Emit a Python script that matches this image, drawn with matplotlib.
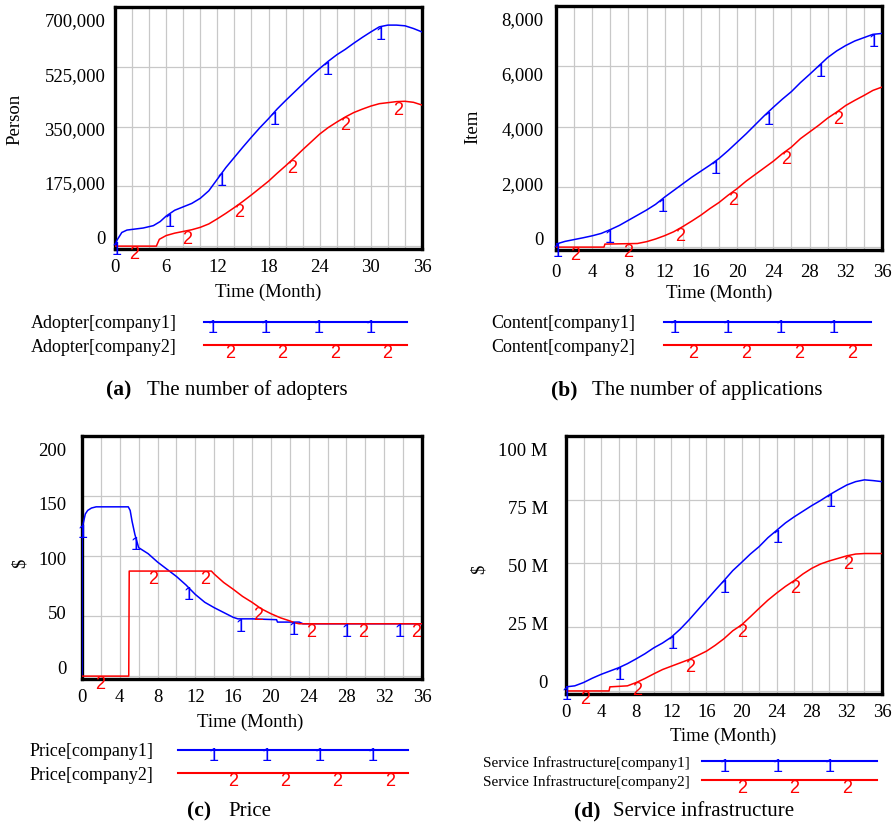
import numpy as np
import matplotlib.pyplot as plt
from matplotlib.lines import Line2D
from matplotlib.transforms import ScaledTranslation

W, H = 896, 826

# ---------------- data ----------------
# (a) adopters, thousands of persons
t_adopt1 = [0, 0.2, 0.8, 1.4, 3.3, 4.5, 5.3, 6, 7, 8, 9, 10, 11, 12, 13, 14, 15, 16, 17, 18,
            19, 20, 21, 22, 23, 24, 25, 26, 27, 28, 29, 30, 31, 32, 33, 34, 35, 36]
adopt1 = [0, 16, 40, 47, 53, 60, 72, 88, 105, 115, 125, 140, 162, 196, 230, 260, 290, 319, 347, 373,
          401, 426, 450, 474, 498, 520, 541, 560, 576, 594, 611, 627, 642, 647, 647, 645, 637, 627]
t_adopt2 = [0, 4.85, 5.2, 6, 7, 8, 9, 10, 11, 12, 13, 14, 15, 16, 17, 18, 19, 20, 21, 22,
            23, 24, 25, 26, 27, 28, 29, 30, 31, 32, 33, 34, 35, 36]
adopt2 = [0, 0, 20, 31, 38, 43, 48, 55, 65, 80, 96, 113, 131, 150, 170, 190, 213, 235, 258, 282,
          305, 328, 347, 363, 378, 391, 401, 410, 417, 420, 423, 424, 421, 413]

# (b) content, items
t_cont1 = list(range(37))
cont1 = [100, 190, 250, 310, 375, 455, 580, 720, 890, 1060, 1230, 1420, 1660, 1880, 2100, 2320,
         2520, 2720, 2940, 3200, 3480, 3760, 4060, 4360, 4640, 4910, 5160, 5460, 5730, 6010,
         6290, 6510, 6690, 6840, 6950, 7060, 7090]
t_cont2 = [0, 5.3, 5.4, 9, 10, 11, 12, 13, 14, 15, 16, 17, 18, 19, 20, 21, 22, 23, 24, 25,
           26, 27, 28, 29, 30, 31, 32, 33, 34, 35, 36]
cont2 = [0, 0, 100, 120, 180, 270, 380, 510, 680, 865, 1060, 1280, 1480, 1720, 1940, 2190, 2410,
         2630, 2850, 3100, 3320, 3600, 3820, 4040, 4280, 4480, 4700, 4870, 5030, 5200, 5310]

# (c) price, $
t_price1 = [0, 0.01, 0.35, 0.6, 1, 1.5, 4.9, 5.1, 5.3, 5.6, 6, 7, 8, 9, 10, 11, 12, 13, 14, 15,
            16, 16.5, 18, 20.6, 20.7, 23, 23.4, 36]
price1 = [0, 123, 135, 138, 140, 141, 141, 138, 129, 118, 107, 102, 95, 89, 83, 76, 68, 61.5, 57, 53,
          49, 47.7, 47.7, 47, 45, 45, 43.6, 43.6]
t_price2 = [0, 4.95, 5.0, 13.7, 14, 15, 16, 17, 18, 19, 20, 21, 22, 22.5, 23, 36]
price2 = [0, 0, 87.5, 87.5, 85, 78, 72.4, 66.4, 61.5, 56, 52, 48.6, 46, 44.4, 43.6, 43.6]

# (d) service infrastructure, million $
t_serv1 = list(range(37))
serv1 = [1.6, 2.0, 3.3, 5.0, 6.5, 7.8, 9.1, 10.7, 12.6, 14.6, 16.9, 18.8, 21.1, 24.2, 27.8, 31.7,
         35.6, 39.5, 43.3, 47.2, 50.4, 53.7, 56.6, 60.1, 63.0, 65.9, 68.3, 70.5, 72.7, 74.7, 76.9,
         78.9, 80.8, 82.1, 82.8, 82.5, 82.1]
t_serv2 = [0, 4.9, 5.0, 7, 8, 9, 10, 11, 12, 13, 14, 15, 16, 17, 18, 19, 20, 21, 22, 23, 24,
           25, 26, 27, 28, 29, 30, 31, 32, 33, 34, 35, 36]
serv2 = [0, 0, 1.6, 2.0, 3.3, 4.9, 6.7, 8.4, 9.7, 11.0, 12.3, 13.9, 15.6, 17.9, 20.5, 23.6, 25.9,
         29.1, 32.4, 35.6, 38.4, 41.0, 43.3, 45.9, 48.1, 49.8, 51.0, 52.0, 53.0, 53.7, 53.9, 53.9, 53.9]

yticks_a = [0, 175, 350, 525, 700]
ylabels_a = ['0', '175,000', '350,000', '525,000', '700,000']
yticks_b = [0, 2000, 4000, 6000, 8000]
ylabels_b = ['0', '2,000', '4,000', '6,000', '8,000']
yticks_c = [0, 50, 100, 150, 200]
ylabels_c = ['0', '50', '100', '150', '200']
yticks_d = [0, 25, 50, 75, 100]
ylabels_d = ['0', '25 M', '50 M', '75 M', '100 M']

BLUE = '#0000ff'
RED = '#ff0000'
SERIF = 'Liberation Serif'
SANS = 'Liberation Sans'
MK = 13  # size of the 1/2 series markers

fig = plt.figure(figsize=(W / 100, H / 100), dpi=100)


def box(l, t, r, b):
    return [l / W, 1 - b / H, (r - l) / W, (b - t) / H]


def ftext(x, y, s, **kw):
    fig.text(x / W, 1 - y / H, s, **kw)


def panel(rect, series, yticks, ylabels, xstep, ypad, xpad, m1, m2):
    ax = fig.add_axes(box(*rect))
    ymax = yticks[-1]
    ax.set_xlim(0, 36)
    ax.set_ylim(-0.012 * ymax, ymax)
    ax.set_xticks(np.arange(0, 37, xstep))
    ax.set_xticks(np.arange(0, 37, 2), minor=True)
    ax.set_yticks(yticks)
    ax.set_yticklabels(ylabels)
    ax.grid(which='both', axis='x', color='#c8c8c8', lw=0.9)
    ax.grid(which='major', axis='y', color='#c8c8c8', lw=0.9)
    ax.set_axisbelow(True)
    ax.tick_params(which='both', length=0, labelsize=13.5)
    ax.tick_params(axis='y', pad=ypad)
    ax.tick_params(axis='x', pad=xpad)
    for lab in ax.get_xticklabels() + ax.get_yticklabels():
        lab.set_family(SERIF)
    # vensim squeezes the value labels towards the middle
    for lab, v in zip(ax.get_yticklabels(), yticks):
        dy = (9 - 22 * v / ymax) / 100
        lab.set_transform(lab.get_transform() + ScaledTranslation(0, dy, fig.dpi_scale_trans))
    for sp in ax.spines.values():
        sp.set_linewidth(2.4)
    (t1, v1), (t2, v2) = series
    ax.plot(t1, v1, color=BLUE, lw=1.1, zorder=3)
    ax.plot(t2, v2, color=RED, lw=1.1, zorder=3)
    for tm in np.arange(m1[0], 36, m1[1]):
        ax.text(tm, np.interp(tm, t1, v1), '1', color=BLUE, fontsize=MK, family=SANS,
                ha='center', va='top', zorder=4)
    for tm in np.arange(m2[0], 36, m2[1]):
        ax.text(tm, np.interp(tm, t2, v2), '2', color=RED, fontsize=MK, family=SANS,
                ha='center', va='top', zorder=4)
    return ax


def legend(xt, x0, x1, y1, y2, names, size, p1, p2):
    for y, name, col, mk, pos in [(y1, names[0], BLUE, '1', p1), (y2, names[1], RED, '2', p2)]:
        fig.add_artist(Line2D([x0 / W, x1 / W], [1 - y / H, 1 - y / H], color=col, lw=1.5,
                              transform=fig.transFigure))
        ftext(xt, y + 2, name, fontsize=size, family=SERIF, va='center', ha='left')
        for x in pos:
            ftext(x, y - 2 if mk == '1' else y, mk, color=col, fontsize=MK, family=SANS,
                  ha='center', va='top')


def caption(xb, xr, y, tag, text):
    ftext(xb, y, tag, fontsize=15.5, family=SERIF, weight='bold', va='center')
    ftext(xr, y, text, fontsize=15, family=SERIF, va='center')


panel((115, 7, 422, 249), [(t_adopt1, adopt1), (t_adopt2, adopt2)], yticks_a, ylabels_a,
      6, 7, 7, (0.15, 6.2), (2.2, 6.2))
panel((556, 6, 882, 250), [(t_cont1, cont1), (t_cont2, cont2)], yticks_b, ylabels_b,
      4, 9, 10, (0.15, 5.82), (2.1, 5.82))
panel((82, 436, 422, 679), [(t_price1, price1), (t_price2, price2)], yticks_c, ylabels_c,
      4, 11, 7, (0.1, 5.58), (1.9, 5.58))
panel((566, 436, 882, 694), [(t_serv1, serv1), (t_serv2, serv2)], yticks_d, ylabels_d,
      4, 13, 7, (0.1, 6.0), (2.15, 5.99))

for x, y, s in [(268, 292, 'Time (Month)'), (719, 293, 'Time (Month)'),
                (250, 722, 'Time (Month)'), (723, 736, 'Time (Month)')]:
    ftext(x, y, s, fontsize=13.5, family=SERIF, ha='center', va='center')
for x, y, s in [(15, 119, 'Person'), (473, 127, 'Item'), (20, 563, '$'), (479, 569, '$')]:
    ftext(x, y, s, fontsize=13.5, family=SERIF, ha='center', va='center', rotation=90)

legend(31, 204, 407, 322, 345, ['Adopter[company1]', 'Adopter[company2]'], 13,
       np.arange(213, 400, 52.7), np.arange(230, 400, 52.5))
legend(491, 664, 871, 322, 345, ['Content[company1]', 'Content[company2]'], 13,
       np.arange(675, 860, 53), np.arange(693, 870, 53))
legend(30, 178, 408, 750, 773, ['Price[company1]', 'Price[company2]'], 13,
       np.arange(214, 400, 53), np.arange(233, 400, 52.3))
legend(483, 702, 877, 761, 780, ['Service Infrastructure[company1]', 'Service Infrastructure[company2]'],
       11, np.arange(725, 860, 52.5), np.arange(742, 870, 52.5))

caption(106, 147, 390, '(a)', 'The number of adopters')
caption(551, 592, 390, '(b)', 'The number of applications')
caption(187, 228, 811, '(c)', 'Price')
caption(574, 613, 811, '(d)', 'Service infrastructure')

fig.savefig('out.png', dpi=100)
